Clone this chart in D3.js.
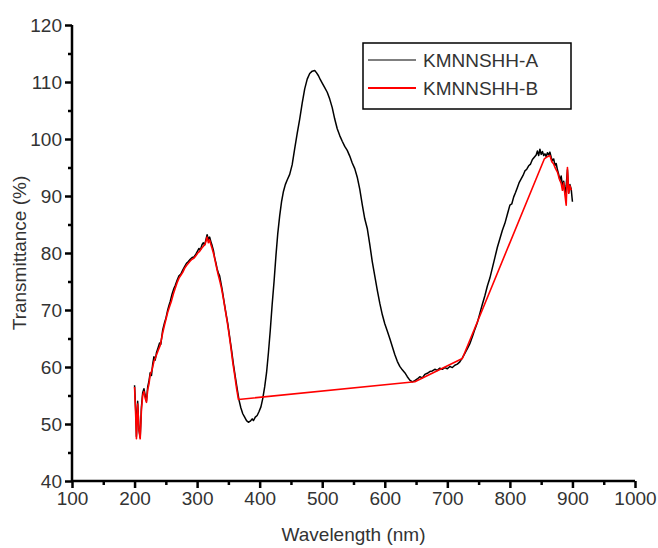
<!DOCTYPE html>
<html><head><meta charset="utf-8">
<script src="https://cdn.jsdelivr.net/npm/d3@7"></script>
<style>body{margin:0;background:#fff}svg{display:block}text{font-family:"Liberation Sans",Arial,sans-serif;fill:#333}</style>
</head><body><svg id="c" width="658" height="548"></svg>
<script>
const xTicks=[100,200,300,400,500,600,700,800,900,1000];
const yTicks=[40,50,60,70,80,90,100,110,120];
const seriesNames=["KMNNSHH-A","KMNNSHH-B"];
const seriesA=[[200,56.8],[202,52],[203,47.8],[205,54],[207,49],[209,47.6],[211,53],[213,55.5],[215,56.2],[217,55],[219,54],[221,56.5],[223,57.5],[225,59],[227,58.5],[229,60.5],[231,61.8],[233,61.2],[235,62.5],[238,63.5],[240,64.2],[242,64],[245,66.5],[248,67.8],[250,68.5],[253,70],[255,70.8],[257,71.5],[260,72.8],[263,73.8],[265,74.3],[268,75.2],[271,76],[274,76.3],[277,77],[280,77.6],[283,78.2],[286,78.5],[289,78.9],[292,79.2],[295,79.3],[298,79.8],[300,80.2],[303,80.8],[305,80.5],[308,81.5],[310,81.8],[312,81.4],[314,82.3],[316,83.2],[318,82.4],[320,82.8],[322,82],[324,81.3],[326,80.5],[328,79.2],[330,78.3],[332,77.2],[334,76.5],[336,76],[338,74.8],[340,73.6],[343,71.5],[346,69.5],[349,67.6],[352,65.3],[355,63],[358,60.5],[361,58.3],[364,56.2],[367,54.2],[370,52.8],[373,51.8],[376,51.2],[379,50.6],[382,50.3],[385,50.5],[388,50.9],[390,50.6],[393,51.2],[396,51.5],[399,52.2],[402,53],[405,54.5],[408,56.5],[411,59],[414,62.5],[417,66.5],[420,71],[423,75],[426,79.5],[429,83.5],[432,86.5],[435,89],[438,90.8],[441,92],[444,92.8],[448,93.8],[452,95.5],[456,98.3],[460,101],[464,103.5],[468,106.3],[472,108.8],[476,110.5],[480,111.5],[484,111.9],[488,112],[491,111.6],[494,111.1],[497,110.4],[500,109.8],[504,109],[508,108.2],[512,107],[516,105.5],[520,103.5],[524,101.8],[528,100.6],[532,99.6],[536,98.7],[540,98],[544,97],[548,95.8],[552,94.8],[556,93.3],[560,91.2],[564,88.5],[568,86],[572,84.3],[576,81.5],[580,78.5],[584,76],[588,73.5],[592,71.2],[596,69.2],[600,67.6],[604,66.3],[608,65],[612,63.6],[616,62.2],[620,61],[624,60.1],[628,59.5],[632,59],[636,58.3],[640,57.7],[644,57.4],[648,57.6],[652,57.9],[656,58.3],[660,58.1],[664,58.7],[668,58.9],[672,59.2],[676,59.3],[680,59.6],[684,59.4],[688,59.8],[692,59.6],[696,59.9],[700,59.7],[704,60.1],[708,59.9],[712,60.3],[716,60.5],[720,60.9],[724,61.6],[728,62.4],[732,63.2],[736,64.1],[740,65.3],[744,66.6],[748,67.8],[752,69.4],[756,71],[760,72.5],[764,74.2],[768,75.6],[772,77.4],[776,79.2],[780,81],[784,82.5],[788,84],[792,85.2],[796,86.8],[800,88.4],[803,88.6],[806,89.8],[809,90.6],[812,91.5],[815,92.4],[818,93],[821,93.6],[824,94.4],[827,94.7],[830,95.3],[833,95.6],[836,96.4],[839,96.8],[842,97.2],[844,97.9],[846,97.1],[848,98.2],[850,97.3],[852,97.8],[854,97.1],[856,97.4],[858,96.9],[860,97.6],[862,97.2],[864,97.7],[866,96.8],[868,96.2],[870,96.5],[872,95.4],[874,95.7],[876,94.6],[878,93.8],[880,92.8],[882,93.5],[884,91.8],[886,92.6],[888,90.4],[890,91.8],[892,94.6],[894,90.5],[896,92],[898,91.2],[900,89]];
const seriesB=[[200,56.5],[202,51],[203,47.4],[205,53.5],[207,49],[209,47.4],[211,52.5],[213,55],[215,55.7],[217,54.5],[219,53.8],[221,56],[223,57],[225,58.6],[228,59.5],[231,61],[234,61.8],[238,63],[241,63.8],[245,66],[248,67.4],[250,68.3],[253,69.6],[256,70.6],[259,71.6],[262,72.8],[265,73.8],[268,74.8],[271,75.6],[274,76.1],[277,76.6],[280,77.3],[283,77.8],[286,78.2],[289,78.6],[292,78.9],[295,79.1],[298,79.5],[301,80],[304,80.3],[307,80.8],[310,81.2],[313,81.6],[316,82.8],[318,81.8],[320,82.3],[322,81.5],[324,80.8],[327,79.6],[330,78],[333,76.5],[336,75.2],[339,73.8],[342,72],[345,70],[348,68],[351,65.8],[354,63.4],[357,60.8],[360,58.6],[363,56.3],[366,54.3],[648,57.4],[724,61.5],[855,96.5],[860,96.9],[864,97.1],[867,96],[870,95.6],[873,94.8],[876,94.2],[879,93],[882,92.2],[884,91],[886,92.3],[888,90.2],[890,88.4],[892,95],[894,90.5],[896,91.8],[898,91]];

const svg=d3.select("#c");
const x=d3.scaleLinear().domain([100,1000]).range([72,635]);
const y=d3.scaleLinear().domain([40,120]).range([481,25]);
const fs=19;

// minor ticks
const gx=svg.append("g").attr("transform","translate(0,481)")
  .call(d3.axisBottom(x).tickValues(d3.range(150,1000,100)).tickSize(4).tickFormat(""));
const gy=svg.append("g").attr("transform","translate(72,0)")
  .call(d3.axisLeft(y).tickValues(d3.range(45,120,10)).tickSize(4).tickFormat(""));
const gx2=svg.append("g").attr("transform","translate(0,481)")
  .call(d3.axisBottom(x).tickValues(xTicks).tickSize(7).tickPadding(4).tickFormat(d3.format("d")));
const gy2=svg.append("g").attr("transform","translate(72,0)")
  .call(d3.axisLeft(y).tickValues(yTicks).tickSize(7).tickPadding(3).tickFormat(d3.format("d")));
[gx,gy,gx2,gy2].forEach(g=>{
  g.selectAll(".domain").attr("stroke","#000").attr("stroke-width",2.5);
  g.selectAll(".tick line").attr("stroke","#000").attr("stroke-width",2.5);
  g.selectAll("text").attr("font-size",fs).attr("font-family","Liberation Sans, Arial, sans-serif").attr("fill","#333");
});
gx2.selectAll(".domain").attr("d",`M72,0H635`);
gy2.selectAll(".domain").attr("d",`M0,481V25`);
gx.selectAll(".domain").remove();gy.selectAll(".domain").remove();

svg.append("text").attr("x",(x(100)+x(1000))/2).attr("y",541).attr("text-anchor","middle").attr("font-size",fs).text("Wavelength (nm)");
svg.append("text").attr("transform",`translate(26,${y(80)}) rotate(-90)`).attr("text-anchor","middle").attr("font-size",fs).text("Transmittance (%)");

const line=d3.line().x(d=>x(d[0])).y(d=>y(d[1]));
svg.append("path").datum(seriesA).attr("d",line).attr("fill","none").attr("stroke","#000").attr("stroke-width",1.5).attr("stroke-linejoin","round");
svg.append("path").datum(seriesB).attr("d",line).attr("fill","none").attr("stroke","#ff0000").attr("stroke-width",1.6).attr("stroke-linejoin","round");

// legend
const lg=svg.append("g");
lg.append("rect").attr("x",363).attr("y",43).attr("width",208).attr("height",66).attr("fill","#fff").attr("stroke","#000").attr("stroke-width",1.5);
const colors=["#000","#ff0000"];
seriesNames.forEach((n,i)=>{
  const yy=60+i*28;
  lg.append("line").attr("x1",368).attr("x2",416).attr("y1",yy).attr("y2",yy).attr("stroke",colors[i]).attr("stroke-width",i?2:1.2);
  lg.append("text").attr("x",423).attr("y",yy+7).attr("font-size",fs).text(n);
});
</script></body></html>
